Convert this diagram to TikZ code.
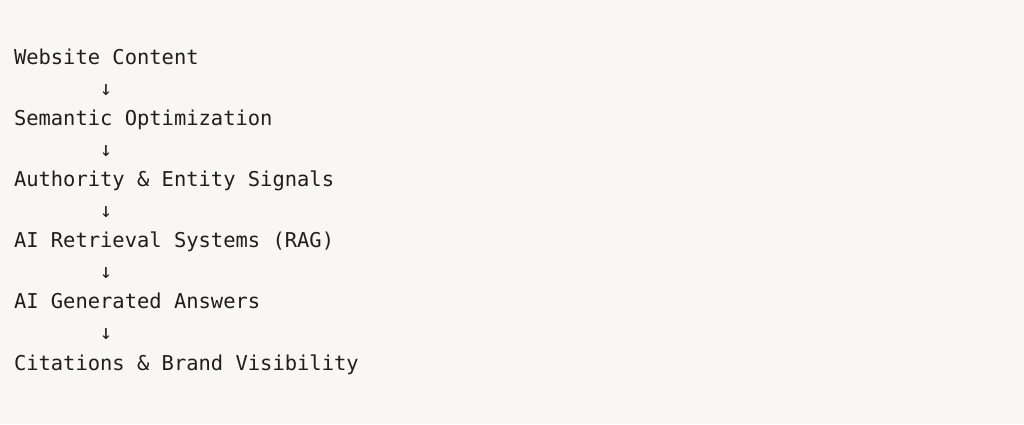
\documentclass[tikz,border=0pt]{standalone}
\usepackage{fontspec}
\setmonofont{DejaVu Sans Mono}
\definecolor{bg}{HTML}{F8F7F5}
\definecolor{ink}{HTML}{1E1E1E}
\begin{document}
\begin{tikzpicture}[x=1pt,y=1pt,
  line/.style={anchor=base west,inner sep=0pt,outer sep=0pt,text=ink,font=\ttfamily\fontsize{20.45}{24}\selectfont},
  arr/.style={anchor=base,inner sep=0pt,outer sep=0pt,text=ink,font=\ttfamily\fontsize{20.45}{24}\selectfont}]
\fill[bg] (0,0) rectangle (1024,-424);
\useasboundingbox (0,0) rectangle (1024,-424);
\node[line] (l0) at (14,-64.5) {Website Content};
\node[arr]  (a0) at (106,-95) {↓};
\node[line] (l1) at (14,-125.6) {Semantic Optimization};
\node[arr]  (a1) at (106,-156.2) {↓};
\node[line] (l2) at (14,-186.7) {Authority \& Entity Signals};
\node[arr]  (a2) at (106,-217.2) {↓};
\node[line] (l3) at (14,-247.8) {AI Retrieval Systems (RAG)};
\node[arr]  (a3) at (106,-278.3) {↓};
\node[line] (l4) at (14,-308.9) {AI Generated Answers};
\node[arr]  (a4) at (106,-339.4) {↓};
\node[line] (l5) at (14,-370) {Citations \& Brand Visibility};
\end{tikzpicture}
\end{document}
